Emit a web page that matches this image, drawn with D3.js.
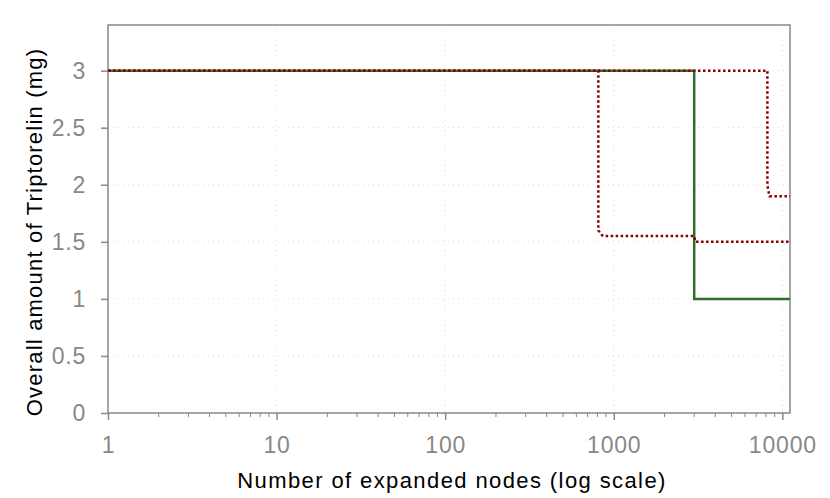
<!DOCTYPE html>
<html>
<head>
<meta charset="utf-8">
<script src="https://cdn.jsdelivr.net/npm/d3@7"></script>
<style>
  body { margin: 0; background: #fff; }
  svg { font-family: "Liberation Sans", Arial, sans-serif; }
</style>
</head>
<body>
<svg id="chart" width="830" height="498"></svg>
<script>
// step series: [nodes, mg]
const greenSteps = [[1, 3], [3000, 3], [3000, 1], [11100, 1]];
const redStepsA = [[1, 3], [810, 3], [810, 1.6], [830, 1.58], [850, 1.56], [870, 1.55], [3000, 1.55], [3050, 1.5], [11100, 1.5]];
const redStepsB = [[1, 3], [8150, 3], [8150, 2.0], [8250, 1.95], [8400, 1.9], [11100, 1.9]];
const yTicks = [0, 0.5, 1, 1.5, 2, 2.5, 3];
const xTicks = [1, 10, 100, 1000, 10000];

const margin = { top: 25, right: 40, bottom: 85, left: 108 };
const width = 830 - margin.left - margin.right;
const height = 498 - margin.top - margin.bottom;
const axis_color = "#888888";
const tick_font = "23px";

const svg = d3.select("#chart");
const g = svg.append("g").attr("transform", `translate(${margin.left},${margin.top})`);

const x = d3.scaleLog().domain([1, 11100]).range([0, width]);
const y = d3.scaleLinear().domain([0, 3.4]).range([height, 0]);

// dotted grid
g.append("g").selectAll("line.hgrid")
    .data(yTicks.filter(d => d > 0))
    .join("line")
    .attr("x1", 0).attr("x2", width)
    .attr("y1", d => y(d)).attr("y2", d => y(d))
    .attr("stroke", "#dddddd")
    .attr("stroke-width", 1)
    .attr("stroke-dasharray", "1,4");

g.append("g").selectAll("line.vgrid")
    .data(xTicks.filter(d => d > 1))
    .join("line")
    .attr("x1", d => x(d)).attr("x2", d => x(d))
    .attr("y1", 0).attr("y2", height)
    .attr("stroke", "#dddddd")
    .attr("stroke-width", 1)
    .attr("stroke-dasharray", "1,4");

// plot box
g.append("rect")
    .attr("x", 0).attr("y", 0)
    .attr("width", width).attr("height", height)
    .attr("fill", "none")
    .attr("stroke", axis_color)
    .attr("stroke-width", 1.5);

// y axis
const yAxis = g.append("g")
    .call(d3.axisLeft(y).tickValues(yTicks).tickSize(7).tickPadding(15).tickFormat(d3.format("~g")));
yAxis.select(".domain").remove();
yAxis.selectAll("line").attr("stroke", axis_color).attr("stroke-width", 1.5);
yAxis.selectAll("text")
    .attr("fill", axis_color)
    .attr("font-family", "Liberation Sans, Arial, sans-serif")
    .attr("font-size", tick_font)
    .style("letter-spacing", "0.8px");

// x axis, majors and minor ticks
const minorTicks = [];
for (let dec = 1; dec <= 1000; dec *= 10) {
    for (let k = 2; k <= 9; k++) minorTicks.push(dec * k);
}
g.append("g")
    .attr("transform", `translate(0,${height})`)
    .selectAll("line")
    .data(minorTicks)
    .join("line")
    .attr("x1", d => x(d)).attr("x2", d => x(d))
    .attr("y1", 0).attr("y2", 4)
    .attr("stroke", axis_color)
    .attr("stroke-width", 1);

const xAxis = g.append("g")
    .attr("transform", `translate(0,${height})`)
    .call(d3.axisBottom(x).tickValues(xTicks).tickSize(7).tickPadding(17).tickFormat(d3.format("d")));
xAxis.select(".domain").remove();
xAxis.selectAll("line").attr("stroke", axis_color).attr("stroke-width", 1.5);
xAxis.selectAll("text")
    .attr("fill", axis_color)
    .attr("font-family", "Liberation Sans, Arial, sans-serif")
    .attr("font-size", tick_font)
    .style("letter-spacing", "0.8px");

// series
const line = d3.line().x(d => x(d[0])).y(d => y(d[1]));

g.append("path")
    .datum(greenSteps)
    .attr("d", line)
    .attr("fill", "none")
    .attr("stroke", "#2f6e2f")
    .attr("stroke-width", 2.5);

[redStepsA, redStepsB].forEach(s => {
    g.append("path")
        .datum(s)
        .attr("d", line)
        .attr("fill", "none")
        .attr("stroke", "#8b0000")
        .attr("stroke-width", 2.5)
        .attr("stroke-dasharray", "2.5,2.5");
});

// axis titles
svg.append("text")
    .attr("x", 452)
    .attr("y", 488)
    .attr("text-anchor", "middle")
    .attr("fill", "#000")
    .style("font-size", "22px")
    .style("letter-spacing", "1.4px")
    .text("Number of expanded nodes (log scale)");

svg.append("text")
    .attr("transform", `translate(42,232) rotate(-90)`)
    .attr("text-anchor", "middle")
    .attr("fill", "#000")
    .style("font-size", "22px")
    .style("letter-spacing", "1.2px")
    .text("Overall amount of Triptorelin (mg)");
</script>
</body>
</html>
